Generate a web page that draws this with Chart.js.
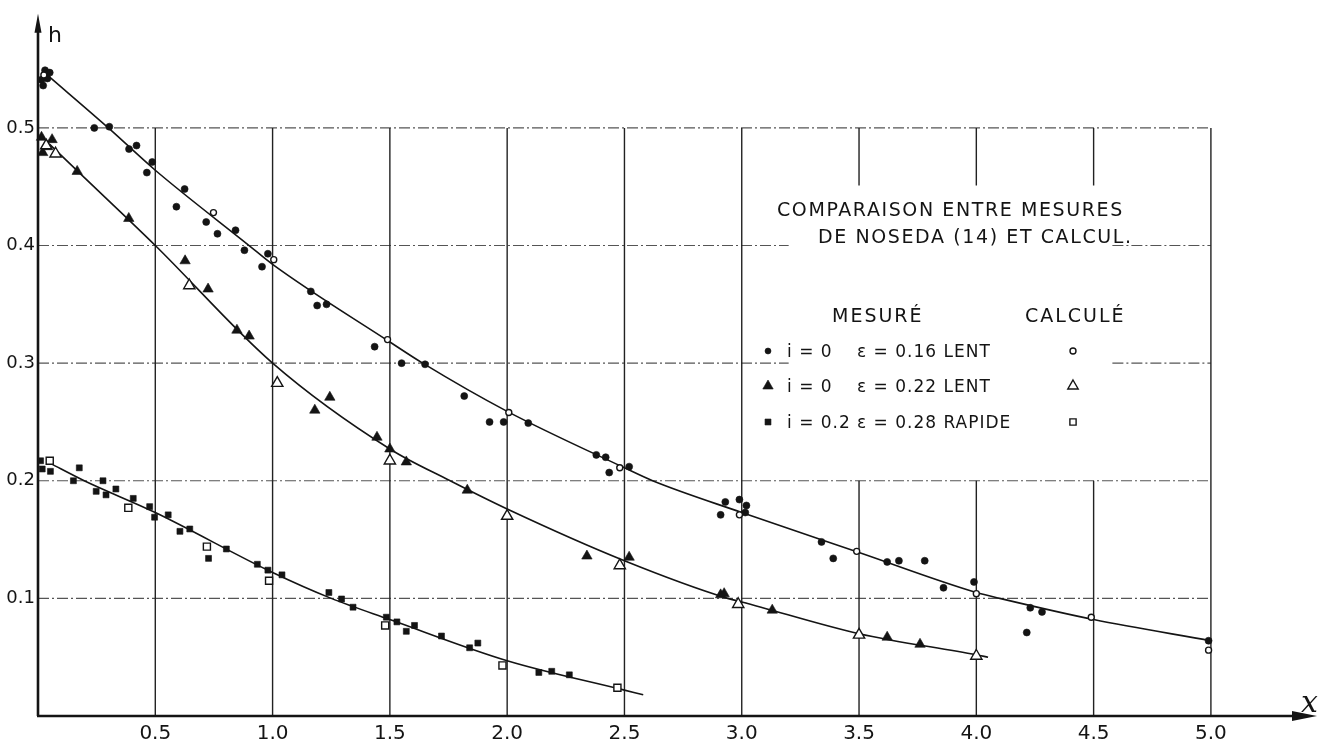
<!DOCTYPE html>
<html>
<head>
<meta charset="utf-8">
<title>Comparaison entre mesures de Noseda (14) et calcul</title>
<script src="https://cdn.jsdelivr.net/npm/chart.js@4.4.1/dist/chart.umd.min.js"></script>
<style>
    html, body { margin: 0; padding: 0; background: #fff; }
    #cadre { width: 1334px; height: 747px; }
</style>
</head>
<body>
<div id="cadre"><canvas id="courbes" width="1334" height="747"></canvas></div>
<script>
// Graduations des axes
const xTicks = [0.5, 1.0, 1.5, 2.0, 2.5, 3.0, 3.5, 4.0, 4.5, 5.0];
const xTickLabels = ['0.5', '1.0', '1.5', '2.0', '2.5', '3.0', '3.5', '4.0', '4.5', '5.0'];
const yTicks = [0.1, 0.2, 0.3, 0.4, 0.5];
const yTickLabels = ['0.1', '0.2', '0.3', '0.4', '0.5'];

// i = 0, eps = 0.16 lent
const mesure016 = [
    [0.015, 0.541], [0.022, 0.536], [0.03, 0.549], [0.05, 0.547], [0.04, 0.542],
    [0.24, 0.500], [0.304, 0.501], [0.388, 0.482], [0.42, 0.485], [0.464, 0.462],
    [0.487, 0.471], [0.59, 0.433], [0.625, 0.448], [0.717, 0.420], [0.765, 0.410],
    [0.842, 0.413], [0.88, 0.396], [0.955, 0.382], [0.98, 0.393], [1.163, 0.361],
    [1.19, 0.349], [1.23, 0.350], [1.435, 0.314], [1.55, 0.300], [1.65, 0.299],
    [1.817, 0.272], [1.925, 0.250], [1.985, 0.250], [2.09, 0.249], [2.38, 0.222],
    [2.42, 0.220], [2.435, 0.207], [2.52, 0.212], [2.91, 0.171], [2.93, 0.182],
    [2.99, 0.184], [3.02, 0.179], [3.015, 0.173], [3.34, 0.148], [3.39, 0.134],
    [3.62, 0.131], [3.67, 0.132], [3.78, 0.132], [3.86, 0.109], [3.99, 0.114],
    [4.215, 0.071], [4.23, 0.092], [4.28, 0.0885], [4.99, 0.064]
];
const calcul016 = [
    [0.025, 0.545], [0.748, 0.428], [1.005, 0.388], [1.49, 0.320], [2.007, 0.258],
    [2.48, 0.211], [2.99, 0.171], [3.49, 0.140], [4.0, 0.104], [4.49, 0.084], [4.99, 0.056]
];
const courbe016 = [
    [0.045, 0.544], [0.3, 0.5], [0.5, 0.464], [0.9, 0.4], [1.0, 0.384], [1.5, 0.318],
    [1.64, 0.3], [2.0, 0.259], [2.5, 0.211], [2.62, 0.2], [3.0, 0.173], [3.5, 0.139],
    [4.0, 0.105], [4.1, 0.1], [4.5, 0.082], [5.0, 0.064]
];

// i = 0, eps = 0.22 lent
const mesure022 = [
    [0.015, 0.492], [0.06, 0.490], [0.02, 0.479], [0.04, 0.484], [0.167, 0.463],
    [0.387, 0.423], [0.627, 0.387], [0.725, 0.363], [0.848, 0.328], [0.90, 0.323],
    [1.18, 0.260], [1.244, 0.271], [1.445, 0.237], [1.50, 0.227], [1.57, 0.216],
    [1.83, 0.192], [2.34, 0.136], [2.52, 0.135], [2.91, 0.103], [2.925, 0.104],
    [3.13, 0.090], [3.62, 0.067], [3.76, 0.061]
];
const calcul022 = [
    [0.035, 0.485], [0.075, 0.478], [0.645, 0.366], [1.02, 0.283], [1.50, 0.217],
    [2.0, 0.170], [2.48, 0.128], [2.985, 0.095], [3.5, 0.069], [4.0, 0.051]
];
const courbe022 = [
    [0.05, 0.486], [0.17, 0.463], [0.5, 0.4], [1.0, 0.3], [1.5, 0.227], [1.757, 0.2],
    [2.0, 0.176], [2.5, 0.132], [2.94, 0.1], [3.0, 0.097], [3.5, 0.07], [4.0, 0.052], [4.05, 0.05]
];

// i = 0.2, eps = 0.28 rapide
const mesure028 = [
    [0.011, 0.217], [0.018, 0.210], [0.053, 0.208], [0.151, 0.200], [0.176, 0.211],
    [0.248, 0.191], [0.277, 0.200], [0.29, 0.188], [0.332, 0.193], [0.406, 0.185],
    [0.476, 0.178], [0.497, 0.169], [0.555, 0.171], [0.605, 0.157], [0.647, 0.159],
    [0.727, 0.134], [0.803, 0.142], [0.935, 0.129], [0.98, 0.124], [1.04, 0.120],
    [1.24, 0.105], [1.294, 0.0995], [1.343, 0.0925], [1.485, 0.084], [1.53, 0.080],
    [1.57, 0.072], [1.605, 0.077], [1.72, 0.068], [1.84, 0.058], [1.875, 0.062],
    [2.135, 0.037], [2.19, 0.038], [2.265, 0.035]
];
const calcul028 = [
    [0.05, 0.217], [0.385, 0.177], [0.72, 0.144], [0.985, 0.115], [1.48, 0.077],
    [1.98, 0.043], [2.47, 0.024]
];
const courbe028 = [
    [0.05, 0.215], [0.197, 0.2], [0.5, 0.173], [1.0, 0.122], [1.25, 0.1], [1.5, 0.082],
    [2.0, 0.047], [2.5, 0.022], [2.58, 0.018]
];

const encre = '#141414';
const police = "'DejaVu Sans', sans-serif";

function pts(liste) {
    return liste.map(p => ({ x: p[0], y: p[1] }));
}

function marques(liste, style, rayon, plein) {
    return {
        type: 'scatter',
        data: pts(liste),
        pointStyle: style,
        pointRadius: rayon,
        pointBackgroundColor: plein ? encre : '#fff',
        pointBorderColor: encre,
        pointBorderWidth: plein ? 0.6 : 1.4,
        showLine: false,
        clip: false
    };
}

function courbe(liste) {
    return {
        type: 'line',
        data: pts(liste),
        borderColor: encre,
        borderWidth: 1.6,
        pointRadius: 0,
        fill: false,
        cubicInterpolationMode: 'monotone',
        clip: false
    };
}

// Cadre de la légende (en unités du graphique)
const boiteLegende = { x0: 3.2, x1: 4.58, y0: 0.2, y1: 0.451 };

const grille = {
    id: 'grille',
    beforeDatasetsDraw(chart) {
        const { ctx, scales: { x, y } } = chart;
        const bx0 = x.getPixelForValue(boiteLegende.x0), bx1 = x.getPixelForValue(boiteLegende.x1);
        const by0 = y.getPixelForValue(boiteLegende.y0), by1 = y.getPixelForValue(boiteLegende.y1);
        const x0 = x.getPixelForValue(0), x5 = x.getPixelForValue(5);
        const y0 = y.getPixelForValue(0), y5 = y.getPixelForValue(0.5);
        ctx.save();
        // horizontales en trait mixte
        ctx.strokeStyle = '#555';
        ctx.lineWidth = 1.2;
        ctx.setLineDash([11, 3, 2, 3]);
        yTicks.forEach(v => {
            const py = y.getPixelForValue(v);
            ctx.beginPath();
            if (py > by1 && py < by0) {
                ctx.moveTo(x0, py); ctx.lineTo(bx0, py);
                ctx.moveTo(bx1, py); ctx.lineTo(x5, py);
            } else {
                ctx.moveTo(x0, py); ctx.lineTo(x5, py);
            }
            ctx.stroke();
        });
        // verticales
        ctx.setLineDash([]);
        ctx.strokeStyle = '#222';
        ctx.lineWidth = 1.4;
        xTicks.forEach(v => {
            const px = x.getPixelForValue(v);
            ctx.beginPath();
            if (px > bx0 && px < bx1) {
                ctx.moveTo(px, y0); ctx.lineTo(px, by0);
                ctx.moveTo(px, by1); ctx.lineTo(px, y5);
            } else {
                ctx.moveTo(px, y0); ctx.lineTo(px, y5);
            }
            ctx.stroke();
        });
        ctx.restore();
    },
    afterDatasetsDraw(chart) {
        const { ctx, chartArea, scales: { x, y } } = chart;
        const ox = x.getPixelForValue(0), oy = y.getPixelForValue(0);
        ctx.save();
        // axes avec flèches
        ctx.strokeStyle = encre;
        ctx.fillStyle = encre;
        ctx.lineWidth = 2.6;
        ctx.beginPath();
        ctx.moveTo(ox, oy); ctx.lineTo(ox, chartArea.top + 12);
        ctx.moveTo(ox - 1, oy); ctx.lineTo(chartArea.right - 18, oy);
        ctx.stroke();
        ctx.beginPath();
        ctx.moveTo(ox, chartArea.top);
        ctx.lineTo(ox + 3.5, chartArea.top + 19);
        ctx.lineTo(ox - 3.5, chartArea.top + 19);
        ctx.closePath();
        ctx.fill();
        ctx.beginPath();
        ctx.moveTo(chartArea.right + 1, oy);
        ctx.lineTo(chartArea.right - 24, oy - 5);
        ctx.lineTo(chartArea.right - 24, oy + 5);
        ctx.closePath();
        ctx.fill();

        // noms des axes
        ctx.font = '22px ' + police;
        ctx.textAlign = 'left';
        ctx.textBaseline = 'alphabetic';
        ctx.fillText('h', ox + 10, 42);
        ctx.font = "italic 30px 'DejaVu Serif', serif";
        ctx.fillText('x', 1301, 712);

        // légende
        ctx.font = '19px ' + police;
        ctx.letterSpacing = '1.6px';
        ctx.fillText('COMPARAISON ENTRE MESURES', 777, 216);
        ctx.fillText('DE NOSEDA (14) ET CALCUL.', 818, 243);
        ctx.letterSpacing = '2px';
        ctx.fillText('MESURÉ', 832, 322);
        ctx.fillText('CALCULÉ', 1025, 322);
        ctx.font = '17px ' + police;
        ctx.letterSpacing = '1px';
        const lignes = [
            { base: 357, sym: 'circle', r: 3, rc: 3, i: 'i = 0', e: 'ε = 0.16 LENT' },
            { base: 392, sym: 'triangle', r: 6, rc: 6, i: 'i = 0', e: 'ε = 0.22 LENT' },
            { base: 428, sym: 'rect', r: 4.2, rc: 4.4, i: 'i = 0.2', e: 'ε = 0.28 RAPIDE' }
        ];
        const dessine = Chart.helpers && Chart.helpers.drawPoint;
        lignes.forEach(l => {
            ctx.fillStyle = encre;
            ctx.fillText(l.i, 787, l.base);
            ctx.fillText(l.e, 857, l.base);
            const cy = l.base - 6;
            if (dessine) {
                ctx.fillStyle = encre;
                ctx.strokeStyle = encre;
                ctx.lineWidth = 0.6;
                Chart.helpers.drawPoint(ctx, { pointStyle: l.sym, radius: l.r, rotation: 0, borderWidth: 0.6 }, 768, cy);
                ctx.fillStyle = '#fff';
                ctx.lineWidth = 1.4;
                Chart.helpers.drawPoint(ctx, { pointStyle: l.sym, radius: l.rc, rotation: 0, borderWidth: 1.4 }, 1073, cy);
            }
        });
        ctx.restore();
    }
};

new Chart(document.getElementById('courbes'), {
    type: 'scatter',
    data: {
        datasets: [
            marques(calcul016, 'circle', 3, false),
            marques(calcul022, 'triangle', 6.5, false),
            marques(calcul028, 'rect', 5, false),
            marques(mesure016, 'circle', 3.5, true),
            marques(mesure022, 'triangle', 6, true),
            marques(mesure028, 'rect', 4.2, true),
            courbe(courbe016),
            courbe(courbe022),
            courbe(courbe028)
        ]
    },
    options: {
        responsive: false,
        animation: false,
        devicePixelRatio: 1,
        layout: { padding: { left: 0, right: 18, top: 10, bottom: 0 } },
        plugins: {
            legend: { display: false },
            tooltip: { enabled: false },
            title: { display: false }
        },
        scales: {
            x: {
                type: 'linear',
                min: 0,
                max: 5.448,
                afterFit: s => { s.height = 31; },
                afterBuildTicks: s => { s.ticks = xTicks.map(v => ({ value: v })); },
                grid: { display: false, drawTicks: false },
                border: { display: false },
                ticks: {
                    autoSkip: false,
                    maxRotation: 0,
                    padding: 6,
                    color: encre,
                    font: { family: police, size: 20 },
                    callback: (v, i) => xTickLabels[i]
                }
            },
            y: {
                type: 'linear',
                min: 0,
                max: 0.597,
                afterFit: s => { s.width = 38; },
                afterBuildTicks: s => { s.ticks = yTicks.map(v => ({ value: v })); },
                grid: { display: false, drawTicks: false },
                border: { display: false },
                ticks: {
                    autoSkip: false,
                    padding: 3,
                    color: encre,
                    font: { family: police, size: 18 },
                    callback: (v, i) => yTickLabels[i]
                }
            }
        }
    },
    plugins: [grille]
});
</script>
</body>
</html>
